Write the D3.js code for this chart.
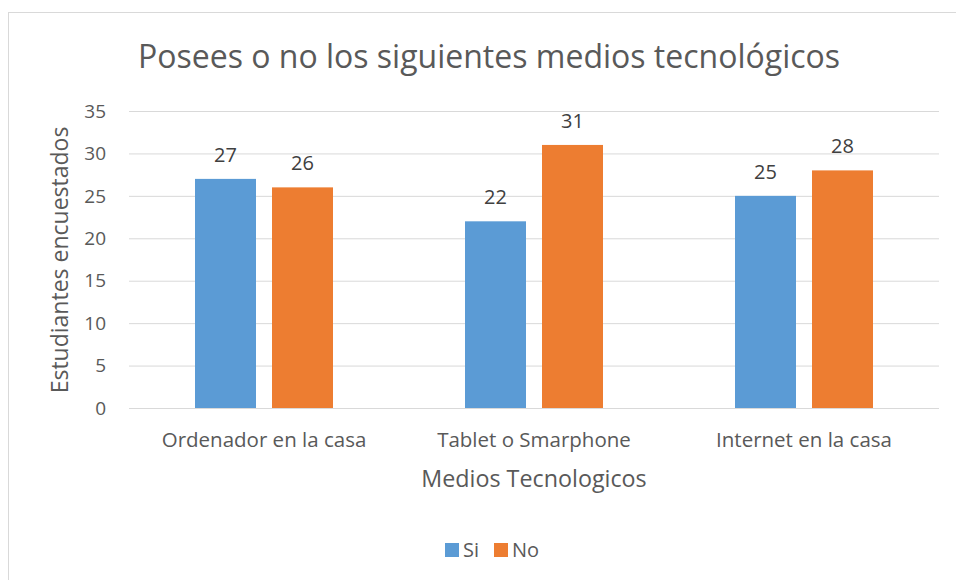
<!DOCTYPE html>
<html>
<head>
<meta charset="utf-8">
<script src="https://cdn.jsdelivr.net/npm/d3@7"></script>
<style>
  body { margin: 0; background: #fff; }
  text { font-family: "Segoe UI", "Open Sans", sans-serif; fill: #595959; }
</style>
</head>
<body>
<svg id="chart" width="956" height="580"></svg>
<script>
var categories = ["Ordenador en la casa", "Tablet o Smarphone", "Internet en la casa"];
var seriesNames = ["Si", "No"];
var siValues = [27, 22, 25];
var noValues = [26, 31, 28];
var yTicks = [0, 5, 10, 15, 20, 25, 30, 35];
var colors = ["#5B9BD5", "#ED7D31"];

var svg = d3.select("#chart");
var margin = {left: 129, right: 17, top: 111, bottom: 172};
var width = 956 - margin.left - margin.right,
  height = 580 - margin.top - margin.bottom;

// chart frame (cropped on the right and bottom)
svg.append("rect")
  .attr("x", 8.5).attr("y", 12.5)
  .attr("width", 960).attr("height", 600)
  .attr("fill", "none")
  .attr("stroke", "#D9D9D9");

svg.append("text")
  .attr("x", 489).attr("y", 68)
  .attr("text-anchor", "middle")
  .style("font-size", "32px")
  .text("Posees o no los siguientes medios tecnológicos");

var g = svg.append("g")
  .attr("transform", "translate(" + margin.left + "," + margin.top + ")");

var x0 = d3.scaleBand().domain(categories).range([0, width]).paddingInner(0).paddingOuter(0);
var y = d3.scaleLinear().domain([0, 35]).range([height, 0]);

// gridlines
g.selectAll(".grid")
  .data(yTicks)
  .enter()
  .append("line")
  .attr("x1", 0).attr("x2", width)
  .attr("y1", function (d) { return y(d) + 0.5; })
  .attr("y2", function (d) { return y(d) + 0.5; })
  .attr("stroke", "#D9D9D9")
  .attr("stroke-width", 1);

// y tick labels
g.selectAll(".ytick")
  .data(yTicks)
  .enter()
  .append("text")
  .attr("x", -23)
  .attr("y", function (d) { return y(d); })
  .attr("dy", "0.35em")
  .attr("text-anchor", "end")
  .style("font-size", "19px")
  .text(function (d) { return d; });

var barW = 61, gap = 16;
var rows = categories.map(function (c, i) {
  return [{cat: c, s: 0, v: siValues[i]}, {cat: c, s: 1, v: noValues[i]}];
});
var flat = [].concat.apply([], rows);

function barX(d) {
  var center = x0(d.cat) + x0.bandwidth() / 2;
  return d.s === 0 ? center - gap / 2 - barW : center + gap / 2;
}

g.selectAll(".bar")
  .data(flat)
  .enter()
  .append("rect")
  .attr("x", barX)
  .attr("y", function (d) { return y(d.v); })
  .attr("width", barW)
  .attr("height", function (d) { return height - y(d.v); })
  .attr("fill", function (d) { return colors[d.s]; });

g.selectAll(".lbl")
  .data(flat)
  .enter()
  .append("text")
  .attr("x", function (d) { return barX(d) + barW / 2; })
  .attr("y", function (d) { return y(d.v) - 17; })
  .attr("text-anchor", "middle")
  .style("font-size", "20px")
  .style("fill", "#404040")
  .text(function (d) { return d.v; });

// category labels
g.selectAll(".cat")
  .data(categories)
  .enter()
  .append("text")
  .attr("x", function (d) { return x0(d) + x0.bandwidth() / 2; })
  .attr("y", height + 39)
  .attr("text-anchor", "middle")
  .style("font-size", "20.5px")
  .text(function (d) { return d; });

// axis titles
svg.append("text")
  .attr("x", margin.left + width / 2).attr("y", 487)
  .attr("text-anchor", "middle")
  .style("font-size", "23.3px")
  .text("Medios Tecnologicos");

svg.append("text")
  .attr("transform", "translate(68,260) rotate(-90)")
  .attr("text-anchor", "middle")
  .style("font-size", "23px")
  .text("Estudiantes encuestados");

// legend
var legend = svg.append("g").attr("transform", "translate(445,543)");
var items = legend.selectAll("g")
  .data(seriesNames)
  .enter()
  .append("g")
  .attr("transform", function (d, i) { return "translate(" + (i * 49) + ",0)"; });
items.append("rect")
  .attr("width", 14).attr("height", 14)
  .attr("fill", function (d, i) { return colors[i]; });
items.append("text")
  .attr("x", 18).attr("y", 14)
  .style("font-size", "20px")
  .text(function (d) { return d; });
</script>
</body>
</html>
